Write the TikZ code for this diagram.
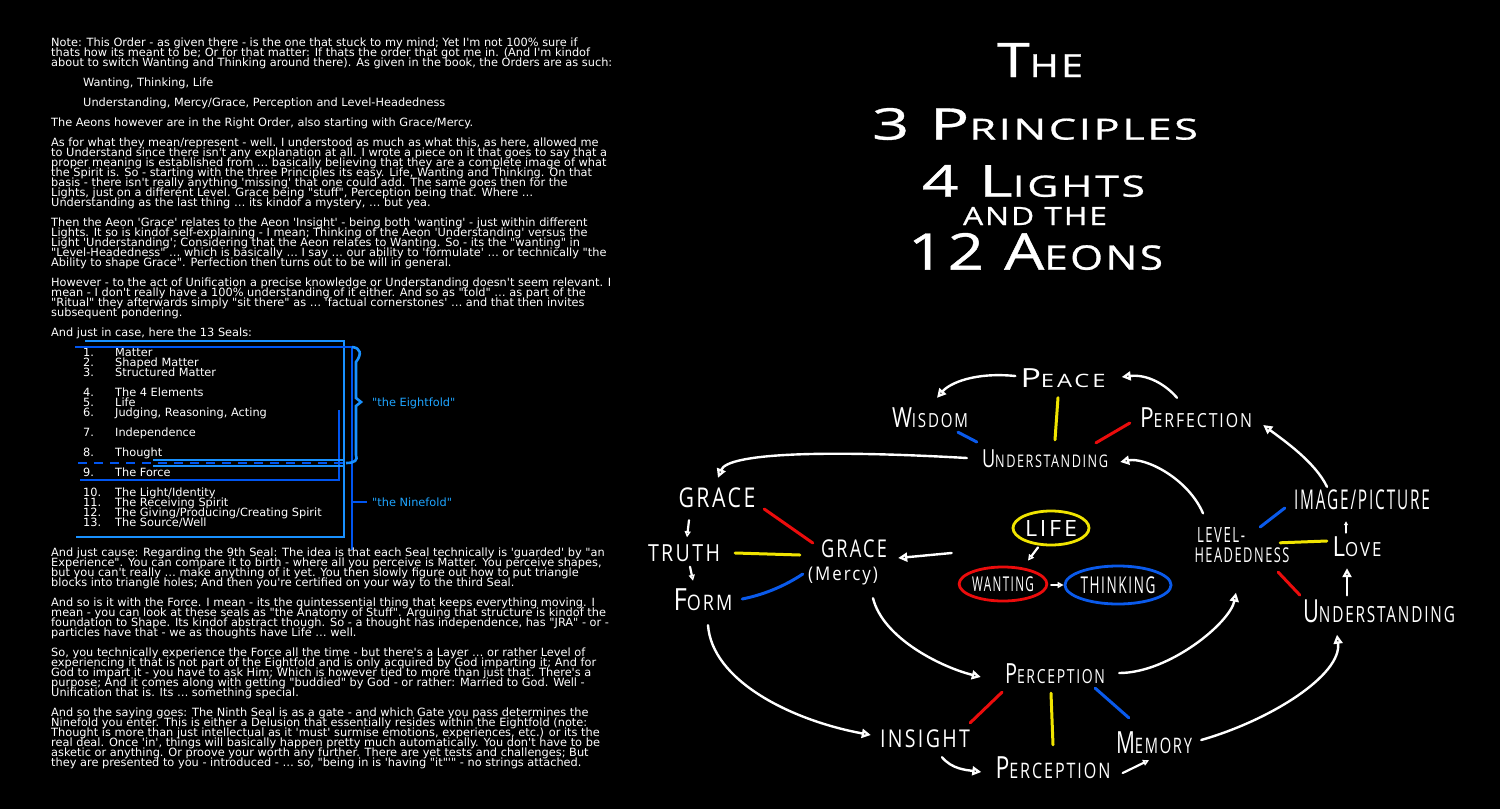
\documentclass[tikz,border=0pt]{standalone}
\usepackage{fontspec}
\usepackage{graphicx}
\usetikzlibrary{arrows.meta,shapes.geometric}
\newfontfamily\txtfont{DejaVu Sans}
\newfontfamily\labfont{Open Sans}[LetterSpace=12]
\newfontfamily\ttlfont{Open Sans}[LetterSpace=6,FakeBold=0.7]
\definecolor{redc}{RGB}{235,12,12}
\definecolor{yelc}{RGB}{240,228,0}
\definecolor{bluc}{RGB}{10,90,235}
\definecolor{sealA}{RGB}{25,145,255}
\definecolor{sealB}{RGB}{0,85,240}
\definecolor{cyant}{RGB}{30,165,255}
\newcommand\txtsetup{\txtfont\fontsize{11.35}{10}\selectfont\lineskiplimit-100pt\relax}
\newcommand\fsc[2]{#1{\fontsize{14}{14}\selectfont#2}}
\newcommand\lab[3]{\resizebox*{#1pt}{#2pt}{\labfont\fontsize{20}{20}\selectfont#3}}
\newcommand\tsc[2]{#1{\fontsize{32}{32}\selectfont#2}}
\newcommand\ttl[3]{\resizebox*{#1pt}{#2pt}{\ttlfont\fontsize{48}{48}\selectfont#3}}
\tikzset{
  txt/.style={inner sep=0, text=white, align=left, font=\txtsetup},
  lbl/.style={inner sep=0, text=white},
  arr/.style={draw=white, line width=2.4pt, line cap=round, -{Triangle[open,length=9pt,width=9pt]}},
  arrs/.style={draw=white, line width=2.2pt, line cap=round, -{Triangle[open,length=6pt,width=6pt]}},
  arrt/.style={draw=white, line width=1.8pt, line cap=round, -{Triangle[open,length=4pt,width=4pt]}},
  cl/.style={line width=3pt, line cap=round},
  sl/.style={line width=2.6pt},
  ell/.style={ellipse, line width=2.8pt, inner sep=0, text=white}
}
\begin{document}
\begin{tikzpicture}[x=1pt,y=-1pt]
\useasboundingbox (0,0) rectangle (1500,809);
\fill[black] (0,0) rectangle (1500,809);

% ---------- left text ----------
\node[txt, anchor=north west] (p1) at (51,37.4) {Note: This Order - as given there - is the one that stuck to my mind; Yet I'm not 100\% sure if\\thats how its meant to be; Or for that matter: If thats the order that got me in. (And I'm kindof\\about to switch Wanting and Thinking around there). As given in the book, the Orders are as such:};
\node[txt, anchor=north west] (p2) at (83,77.4) {Wanting, Thinking, Life};
\node[txt, anchor=north west] (p3) at (83,97.4) {Understanding, Mercy/Grace, Perception and Level-Headedness};
\node[txt, anchor=north west] (p4) at (51,117.4) {The Aeons however are in the Right Order, also starting with Grace/Mercy.};
\node[txt, anchor=north west] (p5) at (51,137.4) {As for what they mean/represent - well. I understood as much as what this, as here, allowed me\\to Understand since there isn't any explanation at all. I wrote a piece on it that goes to say that a\\proper meaning is established from … basically believing that they are a complete image of what\\the Spirit is. So - starting with the three Principles its easy. Life, Wanting and Thinking. On that\\basis - there isn't really anything 'missing' that one could add. The same goes then for the\\Lights, just on a different Level. Grace being "stuff", Perception being that. Where …\\Understanding as the last thing … its kindof a mystery, … but yea.};
\node[txt, anchor=north west] (p6) at (51,217.4) {Then the Aeon 'Grace' relates to the Aeon 'Insight' - being both 'wanting' - just within different\\Lights. It so is kindof self-explaining - I mean; Thinking of the Aeon 'Understanding' versus the\\Light 'Understanding'; Considering that the Aeon relates to Wanting. So - its the "wanting" in\\"Level-Headedness" … which is basically … I say … our ability to 'formulate' … or technically "the\\Ability to shape Grace". Perfection then turns out to be will in general.};
\node[txt, anchor=north west] (p7) at (51,277.4) {However - to the act of Unification a precise knowledge or Understanding doesn't seem relevant. I\\mean - I don't really have a 100\% understanding of it either. And so as "told" … as part of the\\"Ritual" they afterwards simply "sit there" as … 'factual cornerstones' … and that then invites\\subsequent pondering.};
\node[txt, anchor=north west] (p8) at (51,327.4) {And just in case, here the 13 Seals:};

\foreach \n/\t/\y in {1/Matter/356, 2/{Shaped Matter}/366, 3/{Structured Matter}/376, 4/{The 4 Elements}/396, 5/Life/406, 6/{Judging, Reasoning, Acting}/416, 7/Independence/436, 8/Thought/456, 9/{The Force}/476, 10/{The Light/Identity}/496, 11/{The Receiving Spirit}/506, 12/{The Giving/Producing/Creating Spirit}/516, 13/{The Source/Well}/526}{
  \node[txt, anchor=base west] (sn\n) at (83,\y) {\n.};
  \node[txt, anchor=base west] (st\n) at (115,\y) {\t};
}
\node[txt, text=cyant, anchor=base west] (eight) at (372,406) {"the Eightfold"};
\node[txt, text=cyant, anchor=base west] (nine) at (372,506) {"the Ninefold"};

% seal brackets
\draw[sl, sealA] (85,341) -- (344,341) -- (344,537) -- (76,537);
\draw[sl, sealB] (75,347) -- (352,347) -- (352,550);
\draw[sl, sealA] (352,347) .. controls (361,348) and (362,354) .. (356,362) -- (356,398) -- (361,402) -- (356,406) -- (356,455) .. controls (358,460) and (355,463) .. (346,463);
\draw[sl, sealB] (339,410) -- (339,480) -- (80,480);
\draw[sl, sealA] (153,460) -- (345,460);
\draw[sl, sealA] (153,466) -- (345,466);
\draw[sl, sealB, dash pattern=on 9pt off 7pt] (78,463) -- (345,463);
\draw[sl, sealB] (352,502) -- (367,502);

\node[txt, anchor=north west] (p9) at (51,547.4) {And just cause: Regarding the 9th Seal: The idea is that each Seal technically is 'guarded' by "an\\Experience". You can compare it to birth - where all you perceive is Matter. You perceive shapes,\\but you can't really … make anything of it yet. You then slowly figure out how to put triangle\\blocks into triangle holes; And then you're certified on your way to the third Seal.};
\node[txt, anchor=north west] (p10) at (51,597.4) {And so is it with the Force. I mean - its the quintessential thing that keeps everything moving. I\\mean - you can look at these seals as "the Anatomy of Stuff". Arguing that structure is kindof the\\foundation to Shape. Its kindof abstract though. So - a thought has independence, has "JRA" - or -\\particles have that - we as thoughts have Life … well.};
\node[txt, anchor=north west] (p11) at (51,647.4) {So, you technically experience the Force all the time - but there's a Layer … or rather Level of\\experiencing it that is not part of the Eightfold and is only acquired by God imparting it; And for\\God to impart it - you have to ask Him; Which is however tied to more than just that. There's a\\purpose; And it comes along with getting "buddied" by God - or rather: Married to God. Well -\\Unification that is. Its … something special.};
\node[txt, anchor=north west] (p12) at (51,707.4) {And so the saying goes: The Ninth Seal is as a gate - and which Gate you pass determines the\\Ninefold you enter. This is either a Delusion that essentially resides within the Eightfold (note:\\Thought is more than just intellectual as it 'must' surmise emotions, experiences, etc.) or its the\\real deal. Once 'in', things will basically happen pretty much automatically. You don't have to be\\asketic or anything. Or proove your worth any further. There are yet tests and challenges; But\\they are presented to you - introduced - … so, "being in is 'having "it"'" - no strings attached.};

% ---------- title ----------
\node[lbl] (t1) at (1040,60) {\ttl{86}{34}{\tsc{T}{HE}}};
\node[lbl] (t2) at (1035,124) {\ttl{326}{32}{\tsc{3 P}{RINCIPLES}}};
\node[lbl] (t3) at (1033.5,181) {\ttl{223}{32}{\tsc{4 L}{IGHTS}}};
\node[lbl] (t4) at (1035,216) {\ttl{144}{18}{\fontsize{32}{32}\selectfont AND THE}};
\node[lbl] (t5) at (1035.5,251.5) {\ttl{255}{37}{\tsc{12 A}{EONS}}};

% ---------- diagram nodes ----------
\node[lbl] (peace) at (1063,378) {\lab{85}{19}{\fsc{P}{EACE}}};
\node[lbl] (wisdom) at (930,418) {\lab{76}{20}{\fsc{W}{ISDOM}}};
\node[lbl] (perf) at (1196,418) {\lab{112}{20}{\fsc{P}{ERFECTION}}};
\node[lbl] (und) at (1045,459) {\lab{126}{18}{\fsc{U}{NDERSTANDING}}};
\node[lbl] (graceL) at (717,498) {\lab{77}{20}{GRACE}};
\node[lbl] (truth) at (684,553) {\lab{72}{17}{TRUTH}};
\node[lbl] (form) at (703,600) {\lab{59}{22}{\fsc{F}{ORM}}};
\node[lbl] (graceM) at (854,549) {\lab{66}{18}{GRACE}};
\node[lbl] (mercy) at (843,576) {\lab{70}{18}{(Mercy)}};
\node[ell, draw=yelc, minimum width=76pt, minimum height=34pt] (life) at (1051,528) {\lab{52}{16}{LIFE}};
\node[ell, draw=redc, minimum width=82pt, minimum height=34pt] (want) at (1003,584) {\lab{62}{15}{WANTING}};
\node[ell, draw=bluc, minimum width=100pt, minimum height=38pt] (think) at (1118,585) {\lab{75}{17}{THINKING}};
\node[lbl] (level) at (1221,535) {\lab{48}{15}{LEVEL-}};
\node[lbl] (head) at (1242,555) {\lab{95}{15}{HEADEDNESS}};
\node[lbl] (image) at (1362,500) {\lab{136}{20}{IMAGE/PICTURE}};
\node[lbl] (love) at (1357,547) {\lab{49}{20}{\fsc{L}{OVE}}};
\node[lbl] (undR) at (1379,611) {\lab{152}{23}{\fsc{U}{NDERSTANDING}}};
\node[lbl] (percM) at (1055,674) {\lab{100}{20}{\fsc{P}{ERCEPTION}}};
\node[lbl] (insight) at (925,739) {\lab{90}{18}{INSIGHT}};
\node[lbl] (percB) at (1053,768) {\lab{115}{22}{\fsc{P}{ERCEPTION}}};
\node[lbl] (memory) at (1154,743) {\lab{76}{22}{\fsc{M}{EMORY}}};

% ---------- arrows ----------
\draw[arr] ([shift={(-5,-2)}]peace.west) .. controls +(-40,-4) and +(13,-15) .. ([shift={(7,-10)}]wisdom.north);
\draw[arr] ([shift={(-19,-10)}]perf.north) .. controls +(-12,-14) and +(25,-3) .. ([shift={(16,-1)}]peace.east);
\draw[arr] ([shift={(-15,-1)}]und.west) .. controls +(-140,-8) and +(10,-25) .. ([shift={(1,-10)}]graceL.north);
\draw[arr] ([shift={(-18,-14)}]level.north) .. controls +(-15,-35) and +(25,-5) .. ([shift={(12,3)}]und.east);
\draw[arr] ([shift={(-35,-3)}]image.north) .. controls +(-12,-25) and +(20,15) .. ([shift={(11,7)}]perf.east);
\draw[arrs] ([shift={(-28,12)}]graceL.south) -- ([shift={(3,-7)}]truth.north);
\draw[arrs] ([shift={(6,5)}]truth.south) -- ([shift={(-10,-8)}]form.north);
\draw[arr] ([shift={(-60,25)}]life.west) -- ([shift={(11,9)}]graceM.east);
\draw[arrs] ([shift={(-13,1)}]life.south) -- ([shift={(25,-5)}]want.north);
\draw[arrs] ([shift={(3,1)}]want.east) -- (think.west);
\draw[arr] ([shift={(30,13)}]mercy.south) .. controls +(10,40) and +(-40,-10) .. ([shift={(-24,3)}]percM.west);
\draw[arr] ([shift={(14,-1)}]percM.east) .. controls +(50,0) and +(-6,30) .. ([shift={(-6,30)}]head.south);
\draw[arr] ([shift={(5,14)}]form.south) .. controls +(4,55) and +(-81,-15) .. ([shift={(-9,-4)}]insight.west);
\draw[arr] ([shift={(17,9)}]insight.south) .. controls +(10,12) and +(-15,-2) .. ([shift={(-14,4)}]percB.west);
\draw[arrs] ([shift={(12,5)}]percB.east) -- ([shift={(-5,6)}]memory.south);
\draw[arr] ([shift={(9,-3)}]memory.east) .. controls +(70,-20) and +(5,40) .. ([shift={(-42,12)}]undR.south);
\draw[arr] ([shift={(-32,-4)}]undR.north) -- ([shift={(-10,11)}]love.south);
\draw[arrt] ([shift={(-11,-4)}]love.north) -- ([shift={(-16,11)}]image.south);

% ---------- coloured links ----------
\draw[cl, bluc] ([shift={(28,4)}]wisdom.south) -- ([shift={(-5,-17)}]und.west);
\draw[cl, yelc] ([shift={(-5,10)}]peace.south) -- ([shift={(10,-10)}]und.north);
\draw[cl, redc] ([shift={(-10,5)}]perf.west) -- ([shift={(51,-7)}]und.north);
\draw[cl, redc] ([shift={(8.5,11)}]graceL.east) -- ([shift={(-8,-6)}]graceM.west);
\draw[cl, yelc] ([shift={(15,0)}]truth.east) -- ([shift={(-21,6)}]graceM.west);
\draw[cl, bluc] ([shift={(9.5,-1)}]form.east) .. controls +(25,-5) and +(-15,10) .. ([shift={(-5,-2)}]mercy.west);
\draw[cl, bluc] ([shift={(15,-8)}]level.east) -- ([shift={(-9,8)}]image.west);
\draw[cl, yelc] ([shift={(-9.5,-4.5)}]head.north east) -- ([shift={(-5.5,-6)}]love.west);
\draw[cl, redc] ([shift={(-11.5,9.5)}]head.south east) -- ([shift={(-3,-16)}]undR.west);
\draw[cl, redc] ([shift={(-53,8)}]percM.south) -- ([shift={(0,-7)}]insight.north east);
\draw[cl, yelc] ([shift={(-4,9)}]percM.south) -- ([shift={(0,-12)}]percB.north);
\draw[cl, bluc] ([shift={(-10,4)}]percM.south east) -- ([shift={(13,-14)}]memory.north west);
\end{tikzpicture}
\end{document}
